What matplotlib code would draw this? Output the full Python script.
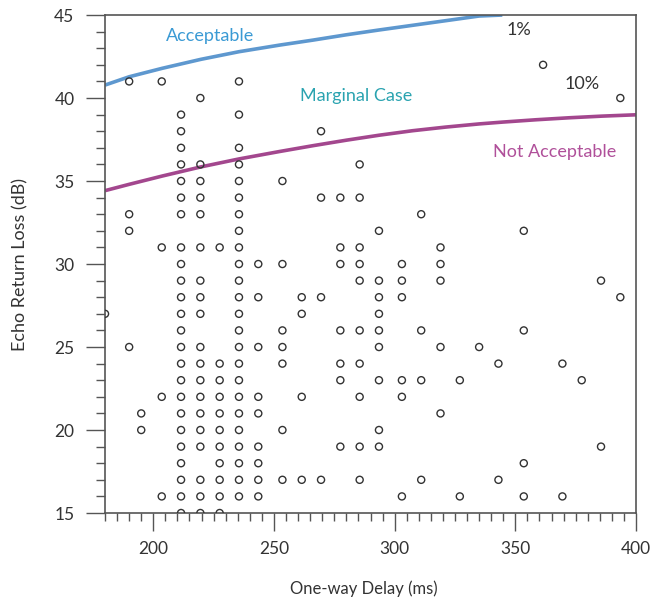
import matplotlib
matplotlib.use("Agg")
import matplotlib.pyplot as plt
from matplotlib.ticker import MultipleLocator

plt.rcParams['font.family'] = ['Lato', 'DejaVu Sans']

# measured calls: one-way delay columns (ms) and the echo return loss values (dB) in each column
delays = [180, 190, 195, 203.5, 211.5, 219.5, 227.5, 235.5, 243.5, 253.5, 261.5, 269.5,
          277.5, 285.5, 293.5, 303, 311, 319, 327, 335, 343, 353.5, 361.5, 369.5,
          377.5, 385.5, 393.5]
erl = [
    [27],
    [41, 33, 32, 25],
    [21, 20],
    [41, 31, 22, 16],
    [39, 38, 37, 36, 35, 34, 33, 31, 30, 29, 28, 27, 26, 25, 24, 23, 22, 21, 20, 19, 18, 17, 16, 15],
    [40, 36, 35, 34, 33, 31, 29, 28, 27, 25, 24, 23, 22, 21, 20, 19, 17, 16, 15],
    [31, 24, 23, 22, 21, 20, 19, 18, 17, 16, 15],
    [41, 39, 37, 36, 35, 34, 33, 32, 31, 30, 29, 28, 27, 26, 25, 24, 23, 22, 21, 20, 19, 18, 17, 16],
    [30, 28, 25, 22, 21, 19, 18, 17, 16],
    [35, 30, 26, 25, 24, 20, 17],
    [28, 27, 22, 17],
    [38, 34, 28, 17],
    [34, 31, 30, 26, 24, 23, 19],
    [36, 34, 31, 30, 29, 26, 24, 22, 19, 17],
    [32, 29, 28, 27, 26, 25, 23, 20, 19],
    [30, 29, 28, 23, 22, 16],
    [33, 26, 23, 17],
    [31, 30, 29, 25, 21],
    [23, 16],
    [25],
    [24, 17],
    [32, 26, 18, 16],
    [42],
    [24, 16],
    [23],
    [29, 19],
    [40, 28],
]

# 1% and 10% limit curves
curve1_x = [180, 190, 203.7, 219.7, 235.5, 252.4, 266.2, 280, 293.6, 307.4, 321.2, 335, 344.6]
curve1_y = [40.78, 41.28, 41.79, 42.33, 42.79, 43.19, 43.49, 43.81, 44.10, 44.38, 44.66, 44.94, 45.0]
curve10_x = [180, 190, 203.7, 219.7, 235.5, 252.4, 266.2, 280, 293.6, 307.4, 321.2, 335,
             344.7, 358.5, 372.3, 386, 400]
curve10_y = [34.42, 34.8, 35.3, 35.85, 36.33, 36.78, 37.13, 37.46, 37.76, 38.03, 38.25, 38.44,
             38.55, 38.69, 38.81, 38.91, 38.99]

xs = []
ys = []
for d, vals in zip(delays, erl):
    for v in vals:
        xs.append(d)
        ys.append(v)

fig = plt.figure(figsize=(6.63, 6.01), dpi=100)
ax = fig.add_axes([0.1584, 0.1464, 0.8009, 0.8286])

ax.plot(curve1_x, curve1_y, color='#5e98cf', lw=2.6, solid_capstyle='butt', zorder=2)
ax.plot(curve10_x, curve10_y, color='#a3478e', lw=2.6, solid_capstyle='butt', zorder=2)
ax.scatter(xs, ys, s=26, facecolors='none', edgecolors='#333333', linewidths=1.0, zorder=3)

ax.set_xlim(180, 400)
ax.set_ylim(15, 45)
ax.xaxis.set_major_locator(MultipleLocator(50))
ax.xaxis.set_minor_locator(MultipleLocator(5))
ax.yaxis.set_major_locator(MultipleLocator(5))
ax.yaxis.set_minor_locator(MultipleLocator(1))

ax.tick_params(axis='both', which='both', direction='out', color='#555555', width=1.0,
               labelcolor='#333333', labelsize=12.5)
ax.tick_params(axis='x', which='major', length=13, pad=7)
ax.tick_params(axis='x', which='minor', length=6)
ax.tick_params(axis='y', which='major', length=14, pad=8)
ax.tick_params(axis='y', which='minor', length=6.5)
for sp in ax.spines.values():
    sp.set_color('#555555')
    sp.set_linewidth(1.2)

ax.set_xlabel('One-way Delay (ms)', fontsize=12, color='#333333')
ax.set_ylabel('Echo Return Loss (dB)', fontsize=13, color='#333333')
ax.xaxis.set_label_coords(0.488, -0.135)
ax.yaxis.set_label_coords(-0.145, 0.5)

ax.text(223.4, 43.73, 'Acceptable', color='#3a9ad4', fontsize=13, ha='center', va='center')
ax.text(284.1, 40.1, 'Marginal Case', color='#2aa3b0', fontsize=13, ha='center', va='center')
ax.text(366.4, 36.75, 'Not Acceptable', color='#b0509a', fontsize=13, ha='center', va='center')
ax.text(351.5, 44.1, '1%', color='#333333', fontsize=13, ha='center', va='center')
ax.text(377.5, 40.84, '10%', color='#333333', fontsize=13, ha='center', va='center')

fig.savefig('out.png', dpi=100)
